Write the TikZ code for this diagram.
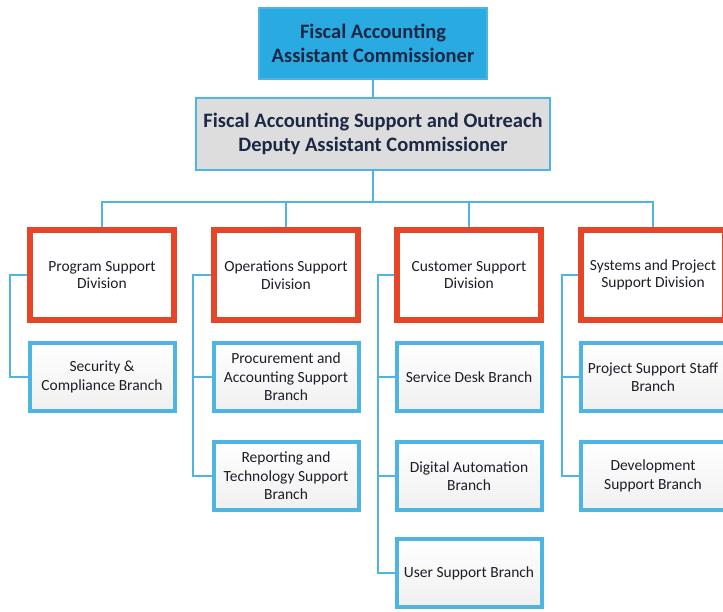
\documentclass[tikz,border=0pt]{standalone}
\usepackage{fontspec}
\setmainfont{Carlito}
\usetikzlibrary{positioning,calc}
\definecolor{headblue}{RGB}{41,170,225}
\definecolor{lineblue}{RGB}{78,180,226}
\definecolor{divred}{RGB}{230,70,40}
\definecolor{deputygray}{RGB}{221,221,221}
\definecolor{headtext}{RGB}{28,40,70}
\definecolor{bodytext}{RGB}{30,30,40}

\begin{document}
\begin{tikzpicture}[
    x=1pt,y=-1pt,
    every node/.style={align=center,inner sep=2pt,text=bodytext},
    headbox/.style={draw=lineblue,line width=1.5pt,fill=headblue,text=headtext,font=\fontsize{20.5}{24}\selectfont\bfseries},
    deputybox/.style={draw=lineblue,line width=1.5pt,fill=deputygray,text=headtext,font=\fontsize{20.5}{24}\selectfont\bfseries},
    divbox/.style={draw=divred,line width=6pt,fill=white,minimum width=144pt,minimum height=90pt,font=\fontsize{15.5}{17.5}\selectfont},
    branchbox/.style={draw=lineblue,line width=4pt,top color=white,bottom color=gray!12,minimum width=145pt,minimum height=68pt,font=\fontsize{15.5}{18.5}\selectfont},
    link/.style={draw=lineblue,line width=1.6pt}
]
\useasboundingbox (0,0) rectangle (723,611);

% Commissioner levels
\node[headbox,minimum width=228pt,minimum height=71pt] (head) at (373,43.5) {Fiscal Accounting\\Assistant Commissioner};
\node[deputybox,minimum width=354pt,minimum height=72pt] (deputy) at (373,134) {Fiscal Accounting Support and Outreach\\Deputy Assistant Commissioner};

% Divisions
\node[divbox] (program) at (102,275) {Program Support\\Division};
\node[divbox] (operations) at (286,275) {Operations Support\\Division};
\node[divbox] (customer) at (469,275) {Customer Support\\Division};
\node[divbox] (systems) at (653,275) {Systems and Project\\Support Division};

% Branches
\node[branchbox] (security) at (102,377) {Security \&\\Compliance Branch};
\node[branchbox] (procure) at (286,377) {Procurement and\\Accounting Support\\Branch};
\node[branchbox] (reporting) at (286,476) {Reporting and\\Technology Support\\Branch};
\node[branchbox] (servicedesk) at (469,377) {Service Desk Branch};
\node[branchbox] (digital) at (469,476) {Digital Automation\\Branch};
\node[branchbox] (usersupport) at (469,573) {User Support Branch};
\node[branchbox] (projstaff) at (653,377) {Project Support Staff\\Branch};
\node[branchbox] (development) at (653,476) {Development\\Support Branch};

% Connections
\draw[link] (head.south) -- (deputy.north);
\draw[link] (deputy.south) -- ++(0,31) coordinate (bus);
\draw[link] (bus) -| (program.north);
\draw[link] (bus) -| (operations.north);
\draw[link] (bus) -| (customer.north);
\draw[link] (bus) -| (systems.north);

\draw[link] (program.west) -- ++(-17,0) |- (security.west);
\draw[link] (operations.west) -- ++(-18,0) |- (procure.west);
\draw[link] (operations.west) -- ++(-18,0) |- (reporting.west);
\draw[link] (customer.west) -- ++(-16,0) |- (servicedesk.west);
\draw[link] (customer.west) -- ++(-16,0) |- (digital.west);
\draw[link] (customer.west) -- ++(-16,0) |- (usersupport.west);
\draw[link] (systems.west) -- ++(-16,0) |- (projstaff.west);
\draw[link] (systems.west) -- ++(-16,0) |- (development.west);

\end{tikzpicture}
\end{document}
